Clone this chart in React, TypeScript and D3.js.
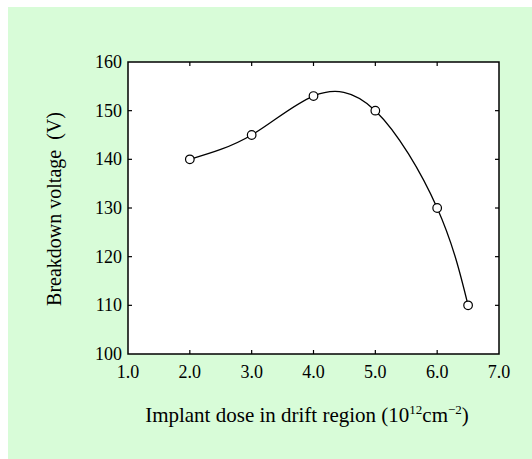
import React from "react";
import * as d3 from "d3";

const doses = [2.0, 3.0, 4.0, 5.0, 6.0, 6.5];
const voltages = [140, 145, 153, 150, 130, 110];
const xTicks = [1, 2, 3, 4, 5, 6, 7];
const yTicks = [100, 110, 120, 130, 140, 150, 160];

const W = 532;
const H = 459;
const plot = { left: 128, right: 499, top: 62, bottom: 354 };

export default function App() {
  const x = d3.scaleLinear().domain([1, 7]).range([plot.left, plot.right]);
  const y = d3.scaleLinear().domain([100, 160]).range([plot.bottom, plot.top]);
  const pts = doses.map((d, i) => [x(d), y(voltages[i])] as [number, number]);
  const line = d3.line().curve(d3.curveNatural)(pts) || "";
  const font = "'Liberation Serif', 'Times New Roman', serif";
  const tl = 4;
  return (
    <svg width={W} height={H} style={{ position: "absolute", left: 0, top: 0 }}>
      <rect x={8} y={7} width={W - 8} height={H - 7} fill="#d8fcd8" />
      <rect x={plot.left} y={plot.top} width={plot.right - plot.left} height={plot.bottom - plot.top} fill="#fff" stroke="#000" strokeWidth={1.5} />
      {xTicks.slice(1, -1).map((t) => (
        <g key={"xt" + t}>
          <line x1={x(t)} x2={x(t)} y1={plot.bottom} y2={plot.bottom - tl} stroke="#000" strokeWidth={1.2} />
          <line x1={x(t)} x2={x(t)} y1={plot.top} y2={plot.top + tl} stroke="#000" strokeWidth={1.2} />
        </g>
      ))}
      {yTicks.slice(1, -1).map((t) => (
        <g key={"yt" + t}>
          <line x1={plot.left} x2={plot.left + tl} y1={y(t)} y2={y(t)} stroke="#000" strokeWidth={1.2} />
          <line x1={plot.right} x2={plot.right - tl} y1={y(t)} y2={y(t)} stroke="#000" strokeWidth={1.2} />
        </g>
      ))}
      {xTicks.map((t) => (
        <text key={"xl" + t} x={x(t)} y={378} textAnchor="middle" fontFamily={font} fontSize={18} fill="#000">
          {t.toFixed(1)}
        </text>
      ))}
      {yTicks.map((t) => (
        <text key={"yl" + t} x={122} y={y(t) + 6} textAnchor="end" fontFamily={font} fontSize={18} fill="#000">
          {t}
        </text>
      ))}
      <path d={line} fill="none" stroke="#000" strokeWidth={1.3} />
      {pts.map((p, i) => (
        <circle key={"c" + i} cx={p[0]} cy={p[1]} r={4.3} fill="#fff" stroke="#000" strokeWidth={1.2} />
      ))}
      <text x={307} y={422} textAnchor="middle" fontFamily={font} fontSize={21} fill="#000">
        Implant dose in drift region (10
        <tspan fontSize={13} dy={-8}>12</tspan>
        <tspan dy={8}>cm</tspan>
        <tspan fontSize={13} dy={-8}>−2</tspan>
        <tspan dy={8}>)</tspan>
      </text>
      <text transform={`translate(61,${(plot.top + plot.bottom) / 2 + 1}) rotate(-90)`} textAnchor="middle" fontFamily={font} fontSize={20} fill="#000" style={{ whiteSpace: "pre" }}>
        {"Breakdown voltage  (V)"}
      </text>
    </svg>
  );
}
